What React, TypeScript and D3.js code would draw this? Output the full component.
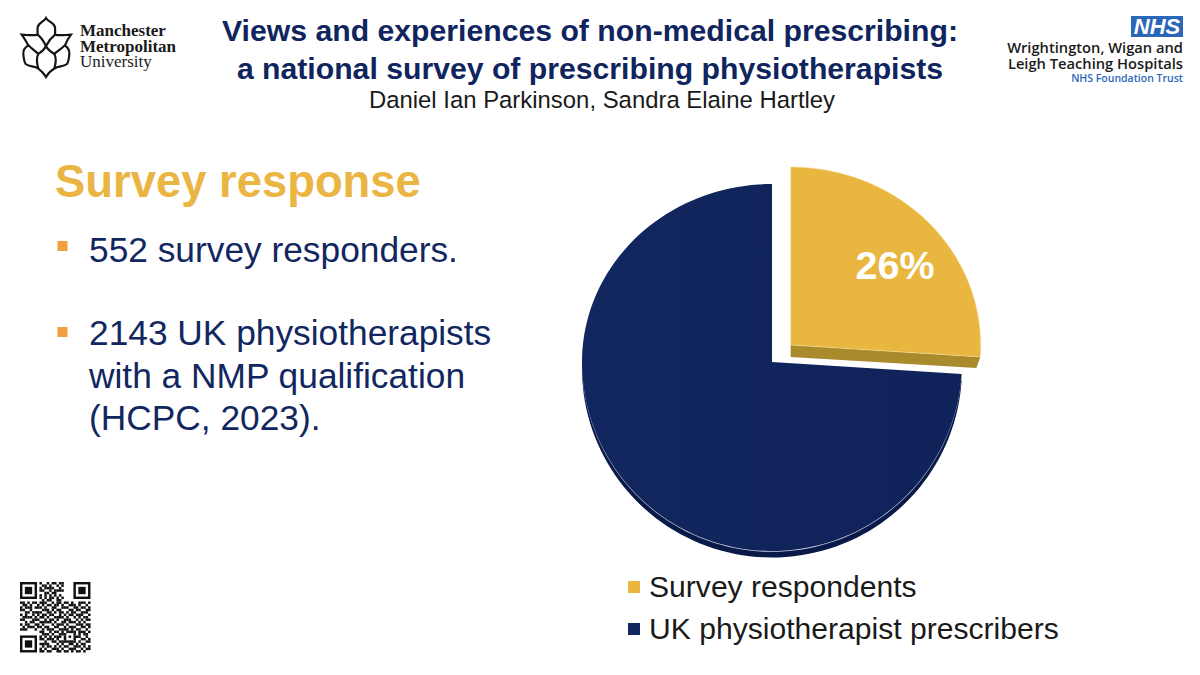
import * as d3 from "d3";

const categories = ["Survey respondents", "UK physiotherapist prescribers"];
const shares = [26, 74];
const sliceColors = ["#E9B740", "#12275F"];
const sideColors = ["#A98A2C", "#0A1A48"];

const titleLines = [
  "Views and experiences of non-medical prescribing:",
  "a national survey of prescribing physiotherapists",
];
const authors = "Daniel Ian Parkinson, Sandra Elaine Hartley";
const heading = "Survey response";
const bulletLines = [
  ["552 survey responders."],
  ["2143 UK physiotherapists", "with a NMP qualification", "(HCPC, 2023)."],
];

const qrRows = [
  "00000000100101101100000000000",
  "00000000011010010100000000000",
  "00000000101111001000000000000",
  "00000000110010111100000000000",
  "00000000001101100000000000000",
  "00000000101010101000000000000",
  "00000000101011010100000000000",
  "00000000010110011000000000000",
  "11010110111001011011010011101",
  "01101001010110110100111010010",
  "10111011101001100111001101101",
  "11001000011101011000110110011",
  "00110111100110101101011001110",
  "10100101011011001010110111001",
  "01111010110100111101001010110",
  "11000111001011010011100101011",
  "00101100111110100110111010100",
  "10110011010001011101000111011",
  "01011101101100110010111001101",
  "11100010010111001111010110010",
  "00000000110010110101111011101",
  "00000000011101001110001010110",
  "00000000101010111010101110010",
  "00000000110111010010001001101",
  "00000000001001101111111010011",
  "00000000111100010100110101100",
  "00000000010110101011001110101",
  "00000000101001110100111001011",
  "00000000110110011011010110100",
];
const qrFinders = [[0, 0], [22, 0], [0, 22]];

// surface of the pie is squashed more above the centre than below it
const rx = 190;
const ryTop = 178;
const ryBottom = 189;
const apexes = [
  [790.7, 345],
  [772, 362],
];

const pieAngles = d3.pie<number>().sort(null)(shares);

function ellipseRadius(a: number) {
  const ry = Math.cos(a) > 0 ? ryTop : ryBottom;
  return 1 / Math.sqrt((Math.sin(a) / rx) ** 2 + (Math.cos(a) / ry) ** 2);
}

const radial = d3
  .lineRadial<number>()
  .angle((a) => a)
  .radius((a) => ellipseRadius(a));

function slicePath(startAngle: number, endAngle: number) {
  const steps = d3.range(0, 121).map((i) => startAngle + ((endAngle - startAngle) * i) / 120);
  return `M0,0L${radial(steps)!.slice(1)}Z`;
}

const legendY = d3.scaleBand<string>().domain(categories).range([581, 665]);
const font = "'Liberation Sans', Arial, sans-serif";
const trustFont = "'Open Sans', 'Noto Sans', sans-serif";

// university mark at 3x
const logoOutline =
  "M93,18 C86,30 70,32 68,46 C67,55 68,62 68,68 C52,72 36,68 20,68 C28,78 34,90 40,100 C30,106 24,114 25,126 C26,142 28,150 32,156 C44,166 58,160 70,170 C78,176 88,186 93,195 C98,186 108,176 118,170 C130,160 144,166 156,156 C160,150 162,142 163,126 C164,114 158,106 150,100 C154,90 160,78 168,68 C152,68 136,72 120,68 C120,62 121,55 120,46 C118,32 100,30 93,18 Z";
const logoInner = [
  "M68,68 C78,76 86,88 93,102 C100,88 110,76 120,68",
  "M40,100 C50,110 62,118 70,126",
  "M150,100 C140,110 126,118 118,126",
  "M93,102 C88,114 78,120 70,126 C64,136 66,156 70,170",
  "M93,102 C98,114 110,120 118,126 C124,136 122,156 118,170",
];

export default function App() {
  const endX = Math.sin(pieAngles[0].endAngle) * ellipseRadius(pieAngles[0].endAngle);
  const endY = -Math.cos(pieAngles[0].endAngle) * ellipseRadius(pieAngles[0].endAngle);
  const side = d3.line()([
    [0, 0],
    [endX, endY],
    [endX - 4, endY + 11],
    [0, 12],
  ]);

  return (
    <svg
      width={1200}
      height={675}
      viewBox="0 0 1200 675"
      style={{ position: "absolute", left: 0, top: 0, display: "block", background: "#fff" }}
    >
      <defs>
        <linearGradient id="navyFill" x1="0" x2="1" y1="0" y2="0">
          <stop offset="0" stopColor="#12275F" />
          <stop offset="1" stopColor="#0F2259" />
        </linearGradient>
      </defs>

      {/* logos */}
      <g transform="translate(15,12) scale(0.3333)" fill="none" stroke="#141414" strokeWidth={6.5} strokeLinejoin="miter">
        <path d={logoOutline} />
        {logoInner.map((d) => (
          <path key={d} d={d} />
        ))}
      </g>
      <g fontFamily="'Liberation Serif', 'DejaVu Serif', serif" fontSize={17} fill="#1a1a1a">
        <text x={80} y={36} fontWeight={700}>Manchester</text>
        <text x={80} y={52} fontWeight={700}>Metropolitan</text>
        <text x={80} y={67}>University</text>
      </g>

      <rect x={1131} y={16} width={52} height={21} fill="#2B67B8" />
      <text x={1157} y={34} textAnchor="middle" fontFamily={font} fontWeight={700} fontStyle="italic" fontSize={22} fill="#fff">NHS</text>
      <g fontFamily={trustFont} textAnchor="end">
        <text x={1183} y={53} fontSize={14.7} fontWeight={600} fill="#1a1a1a">Wrightington, Wigan and</text>
        <text x={1183} y={69} fontSize={14.7} fontWeight={600} fill="#1a1a1a">Leigh Teaching Hospitals</text>
        <text x={1183} y={82} fontSize={10.5} fontWeight={600} fill="#2B67B8">NHS Foundation Trust</text>
      </g>

      {/* title */}
      <g textAnchor="middle" fontFamily={font}>
        {titleLines.map((line, i) => (
          <text key={line} x={590} y={41 + i * 38} fontSize={30.2} fontWeight={700} fill="#10245E">{line}</text>
        ))}
        <text x={602} y={108} fontSize={23.9} fill="#1a1a1a">{authors}</text>
      </g>

      {/* left text */}
      <text x={55} y={197} fontFamily={font} fontSize={45.4} fontWeight={700} fill="#EAB543">{heading}</text>
      <g fontFamily={font} fontSize={35.3} fill="#12275F">
        <rect x={57.5} y={241} width={10} height={10} fill="#F0A03C" />
        <text x={89} y={261.5}>{bulletLines[0][0]}</text>
        <rect x={57.5} y={327} width={10} height={10} fill="#F0A03C" />
        {bulletLines[1].map((line, i) => (
          <text key={line} x={89} y={345 + i * 42.5}>{line}</text>
        ))}
      </g>

      {/* qr */}
      <g transform="translate(20,582)" fill="#111">
        {qrRows.map((row, y) =>
          row.split("").map((c, x) =>
            c === "1" ? <rect key={`${x}-${y}`} x={x * 2.43} y={y * 2.43} width={2.5} height={2.5} /> : null,
          ),
        )}
        {qrFinders.map(([x, y]) => (
          <g key={`${x}-${y}`} transform={`translate(${x * 2.43},${y * 2.43})`}>
            <rect x={1.2} y={1.2} width={14.6} height={14.6} fill="none" stroke="#111" strokeWidth={2.43} />
            <rect x={4.86} y={4.86} width={7.3} height={7.3} />
          </g>
        ))}
      </g>

      {/* pie */}
      <g transform={`translate(${apexes[1][0]},${apexes[1][1]})`}>
        <path
          d={slicePath(pieAngles[1].startAngle, pieAngles[1].endAngle)}
          transform="translate(0,6.5)"
          fill={sideColors[1]}
        />
        <path
          d={slicePath(pieAngles[1].startAngle, pieAngles[1].endAngle)}
          transform="translate(0,0.8)"
          fill="#C8CEDF"
        />
        <path d={slicePath(pieAngles[1].startAngle, pieAngles[1].endAngle)} fill="url(#navyFill)" />
      </g>
      <g transform={`translate(${apexes[0][0]},${apexes[0][1]})`}>
        <path d={side!} fill={sideColors[0]} />
        <path d={slicePath(pieAngles[0].startAngle, pieAngles[0].endAngle)} fill={sliceColors[0]} stroke="#F6E2A6" strokeWidth={0.5} />
      </g>
      <text x={895} y={279} textAnchor="middle" fontFamily={font} fontSize={39.5} fontWeight={700} fill="#fff">{`${shares[0]}%`}</text>

      {/* legend */}
      <g fontFamily={font} fontSize={30.1} fill="#1a1a1a">
        {categories.map((c, i) => (
          <g key={c}>
            <rect x={628} y={legendY(c) ?? 0} width={12} height={12} fill={sliceColors[i]} />
            <text x={649} y={(legendY(c) ?? 0) + 16}>{c}</text>
          </g>
        ))}
      </g>
    </svg>
  );
}
